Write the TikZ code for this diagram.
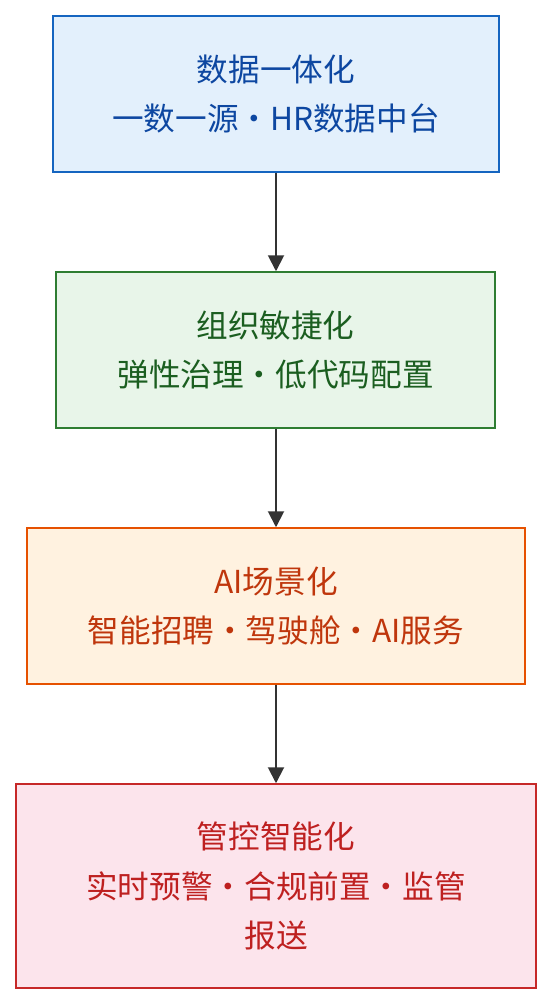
\documentclass[tikz,border=0pt]{standalone}
\usepackage{fontspec}
\setmainfont{Noto Sans CJK SC}
\usetikzlibrary{arrows.meta}

\definecolor{bluefill}{HTML}{E3F0FC}
\definecolor{blueline}{HTML}{1565C0}
\definecolor{bluetext}{HTML}{0D47A1}
\definecolor{greenfill}{HTML}{E8F5E9}
\definecolor{greenline}{HTML}{2E7D32}
\definecolor{greentext}{HTML}{1B5E20}
\definecolor{orangefill}{HTML}{FFF2E0}
\definecolor{orangeline}{HTML}{E65100}
\definecolor{orangetext}{HTML}{BF360C}
\definecolor{redfill}{HTML}{FCE4EC}
\definecolor{redline}{HTML}{C62828}
\definecolor{redtext}{HTML}{BE2020}
\definecolor{arrowgray}{HTML}{333333}

\begin{document}
\begin{tikzpicture}[
  x=0.02cm, y=-0.02cm,
  stage/.style={rectangle, draw, line width=0.85pt, align=center, inner sep=0pt,
    font=\fontsize{18}{28}\selectfont},
  arrow/.style={-{Triangle[length=3.2mm, width=3.2mm]}, line width=1.1pt, draw=arrowgray, fill=arrowgray},
]
\useasboundingbox (0,0) rectangle (552,1004);

% Stages
\node[stage, minimum width=446*0.02cm, minimum height=156*0.02cm, fill=bluefill, draw=blueline, text=bluetext] (data) at (276, 94) {数据一体化\\一数一源·HR数据中台};
\node[stage, minimum width=439*0.02cm, minimum height=156*0.02cm, fill=greenfill, draw=greenline, text=greentext] (org) at (275.5, 350) {组织敏捷化\\弹性治理·低代码配置};
\node[stage, minimum width=498*0.02cm, minimum height=156*0.02cm, fill=orangefill, draw=orangeline, text=orangetext] (ai) at (276, 606) {AI场景化\\智能招聘·驾驶舱·AI服务};
\node[stage, minimum width=520*0.02cm, minimum height=204*0.02cm, fill=redfill, draw=redline, text=redtext] (ctrl) at (276, 886) {管控智能化\\实时预警·合规前置·监管\\报送};

% Flow arrows
\draw[arrow] (data.south -| 276,0) -- (org.north -| 276,0);
\draw[arrow] (org.south -| 276,0) -- (ai.north -| 276,0);
\draw[arrow] (ai.south -| 276,0) -- (ctrl.north -| 276,0);

\end{tikzpicture}
\end{document}
